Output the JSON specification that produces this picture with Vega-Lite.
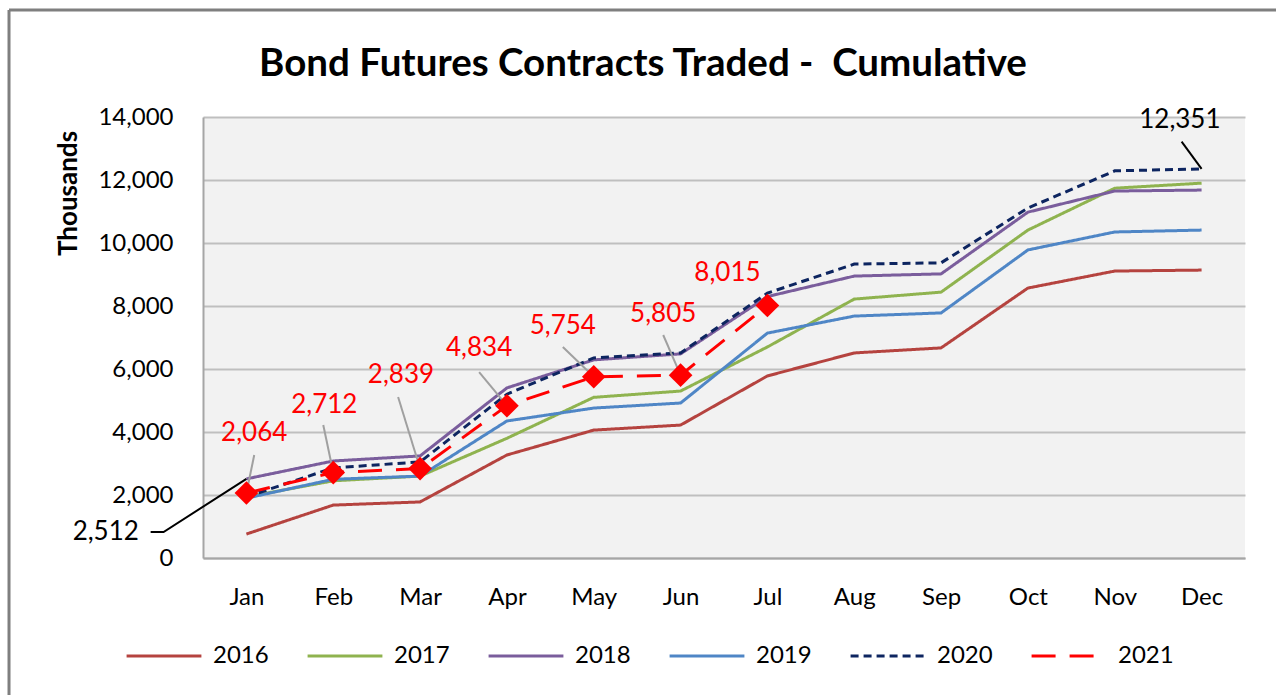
{
  "$schema": "https://vega.github.io/schema/vega-lite/v6.json",
  "width": 1042,
  "height": 441,
  "autosize": {"type": "none"},
  "padding": {"left": 203, "top": 117, "right": 31, "bottom": 137},
  "background": "white",
  "title": {
    "text": "Bond Futures Contracts Traded -\u00a0 Cumulative",
    "font": "Lato", "fontSize": 38.5, "fontWeight": "bold", "color": "black",
    "anchor": "middle", "frame": "group", "dx": -81, "offset": -76
  },
  "config": {
    "font": "Lato",
    "view": {"fill": "#f2f2f2", "stroke": null},
    "axisX": {
      "grid": false, "ticks": false, "domainColor": "#a6a6a6", "domainWidth": 2,
      "labelPadding": 27, "labelFontSize": 24, "labelColor": "black", "labelFont": "Lato"
    },
    "axisY": {
      "grid": true, "gridColor": "#bfbfbf", "gridWidth": 2,
      "ticks": false, "domainColor": "#a6a6a6", "domainWidth": 2,
      "labelExpr": "format(datum.value, ',')",
      "labelPadding": 30, "labelFontSize": 24, "labelColor": "black", "labelFont": "Lato",
      "titleFontSize": 26, "titleFontWeight": "bold", "titleColor": "black", "titleFont": "Lato",
      "titleX": -135, "titleY": 76, "titleAngle": -90, "titleAlign": "center", "titleBaseline": "middle"
    },
    "legend": {
      "orient": "none", "legendX": -78, "legendY": 500, "direction": "horizontal",
      "symbolType": "stroke", "symbolSize": 5600, "labelFontSize": 24, "labelFont": "Lato",
      "labelColor": "black", "columnPadding": 32, "labelOffset": 10, "title": null
    }
  },
  "datasets": {
    "series": [
      {"m": 1, "year": "2016", "value": 760}, {"m": 2, "year": "2016", "value": 1680}, {"m": 3, "year": "2016", "value": 1780},
      {"m": 4, "year": "2016", "value": 3270}, {"m": 5, "year": "2016", "value": 4060}, {"m": 6, "year": "2016", "value": 4220},
      {"m": 7, "year": "2016", "value": 5780}, {"m": 8, "year": "2016", "value": 6510}, {"m": 9, "year": "2016", "value": 6670},
      {"m": 10, "year": "2016", "value": 8570}, {"m": 11, "year": "2016", "value": 9110}, {"m": 12, "year": "2016", "value": 9140},
      {"m": 1, "year": "2017", "value": 1940}, {"m": 2, "year": "2017", "value": 2450}, {"m": 3, "year": "2017", "value": 2600},
      {"m": 4, "year": "2017", "value": 3800}, {"m": 5, "year": "2017", "value": 5100}, {"m": 6, "year": "2017", "value": 5300},
      {"m": 7, "year": "2017", "value": 6700}, {"m": 8, "year": "2017", "value": 8220}, {"m": 9, "year": "2017", "value": 8440},
      {"m": 10, "year": "2017", "value": 10410}, {"m": 11, "year": "2017", "value": 11740}, {"m": 12, "year": "2017", "value": 11900},
      {"m": 1, "year": "2018", "value": 2512}, {"m": 2, "year": "2018", "value": 3080}, {"m": 3, "year": "2018", "value": 3240},
      {"m": 4, "year": "2018", "value": 5400}, {"m": 5, "year": "2018", "value": 6290}, {"m": 6, "year": "2018", "value": 6480},
      {"m": 7, "year": "2018", "value": 8300}, {"m": 8, "year": "2018", "value": 8950}, {"m": 9, "year": "2018", "value": 9020},
      {"m": 10, "year": "2018", "value": 10980}, {"m": 11, "year": "2018", "value": 11650}, {"m": 12, "year": "2018", "value": 11680},
      {"m": 1, "year": "2019", "value": 1900}, {"m": 2, "year": "2019", "value": 2500}, {"m": 3, "year": "2019", "value": 2600},
      {"m": 4, "year": "2019", "value": 4350}, {"m": 5, "year": "2019", "value": 4760}, {"m": 6, "year": "2019", "value": 4920},
      {"m": 7, "year": "2019", "value": 7140}, {"m": 8, "year": "2019", "value": 7680}, {"m": 9, "year": "2019", "value": 7780},
      {"m": 10, "year": "2019", "value": 9780}, {"m": 11, "year": "2019", "value": 10350}, {"m": 12, "year": "2019", "value": 10410},
      {"m": 1, "year": "2020", "value": 1940}, {"m": 2, "year": "2020", "value": 2860}, {"m": 3, "year": "2020", "value": 3050},
      {"m": 4, "year": "2020", "value": 5200}, {"m": 5, "year": "2020", "value": 6350}, {"m": 6, "year": "2020", "value": 6510},
      {"m": 7, "year": "2020", "value": 8410}, {"m": 8, "year": "2020", "value": 9330}, {"m": 9, "year": "2020", "value": 9370},
      {"m": 10, "year": "2020", "value": 11110}, {"m": 11, "year": "2020", "value": 12290}, {"m": 12, "year": "2020", "value": 12351},
      {"m": 1, "year": "2021", "value": 2064}, {"m": 2, "year": "2021", "value": 2712}, {"m": 3, "year": "2021", "value": 2839},
      {"m": 4, "year": "2021", "value": 4834}, {"m": 5, "year": "2021", "value": 5754}, {"m": 6, "year": "2021", "value": 5805},
      {"m": 7, "year": "2021", "value": 8015}
    ],
    "labels21": [
      {"m": 1, "value": 2064, "lm": 1.09, "lv": 3270, "tm": 1.09, "tv": 3970, "label": "2,064"},
      {"m": 2, "value": 2712, "lm": 1.885, "lv": 4220, "tm": 1.897, "tv": 4860, "label": "2,712"},
      {"m": 3, "value": 2839, "lm": 2.747, "lv": 5110, "tm": 2.78, "tv": 5810, "label": "2,839"},
      {"m": 4, "value": 4834, "lm": 3.68, "lv": 5900, "tm": 3.68, "tv": 6670, "label": "4,834"},
      {"m": 5, "value": 5754, "lm": 4.644, "lv": 6700, "tm": 4.644, "tv": 7370, "label": "5,754"},
      {"m": 6, "value": 5805, "lm": 5.8, "lv": 7080, "tm": 5.8, "tv": 7750, "label": "5,805"},
      {"m": 7, "value": 8015, "lm": 7, "lv": 8015, "tm": 6.54, "tv": 9050, "label": "8,015"}
    ],
    "blackLabels": [
      {"tm": 11.75, "tv": 13900, "label": "12,351"},
      {"tm": -0.62, "tv": 825, "label": "2,512"}
    ],
    "leader2020": [
      {"m": 12, "value": 12351, "lm": 11.77, "lv": 13220}
    ],
    "leader2018": [
      {"order": 1, "m": -0.103, "value": 825},
      {"order": 2, "m": 0.046, "value": 825},
      {"order": 3, "m": 1, "value": 2512}
    ],
    "frame": [
      {"m": -1.734, "value": 17397, "lm": -1.734, "lv": -5000},
      {"m": -1.734, "value": 17397, "lm": 13.2, "lv": 17397}
    ]
  },
  "layer": [
    {
      "data": {"name": "frame"},
      "mark": {"type": "rule", "color": "#7f7f7f", "strokeWidth": 3},
      "encoding": {
        "x": {"field": "m", "type": "quantitative", "title": null},
        "y": {"field": "value", "type": "quantitative", "title": "Thousands"},
        "x2": {"field": "lm"},
        "y2": {"field": "lv"}
      }
    },
    {
      "data": {"name": "series"},
      "mark": {"type": "line", "strokeCap": "butt"},
      "encoding": {
        "x": {"field": "m", "type": "quantitative", "scale": {"domain": [0.5, 12.5], "nice": false, "zero": false}, "title": null,
          "axis": {"values": [1, 2, 3, 4, 5, 6, 7, 8, 9, 10, 11, 12],
                   "labelExpr": "['Jan','Feb','Mar','Apr','May','Jun','Jul','Aug','Sep','Oct','Nov','Dec'][datum.value-1]"}},
        "y": {"field": "value", "type": "quantitative", "scale": {"domain": [0, 14000], "nice": false}, "title": "Thousands",
          "axis": {"values": [0, 2000, 4000, 6000, 8000, 10000, 12000, 14000], "labelExpr": "format(datum.value, ',')"}},
        "color": {"field": "year", "type": "nominal",
          "scale": {"domain": ["2016", "2017", "2018", "2019", "2020", "2021"],
                    "range": ["#b5433f", "#8fb34f", "#7a5d9c", "#4f86c6", "#0d2560", "#ff0000"]}},
        "strokeDash": {"field": "year", "type": "nominal",
          "scale": {"domain": ["2016", "2017", "2018", "2019", "2020", "2021"],
                    "range": [[1, 0], [1, 0], [1, 0], [1, 0], [8, 5], [24, 14]]}},
        "strokeWidth": {"field": "year", "type": "nominal",
          "scale": {"domain": ["2016", "2017", "2018", "2019", "2020", "2021"],
                    "range": [3, 3, 3, 3, 3, 6.5]}}
      }
    },
    {
      "data": {"name": "labels21"},
      "mark": {"type": "rule", "color": "#a0a0a0", "strokeWidth": 2},
      "encoding": {
        "x": {"field": "m", "type": "quantitative", "title": null},
        "y": {"field": "value", "type": "quantitative", "title": "Thousands"},
        "x2": {"field": "lm"},
        "y2": {"field": "lv"}
      }
    },
    {
      "data": {"name": "series"},
      "transform": [{"filter": "datum.year == '2021'"}],
      "mark": {"type": "point", "shape": "diamond", "filled": true, "color": "#ff0000", "opacity": 1, "size": 560},
      "encoding": {
        "x": {"field": "m", "type": "quantitative", "title": null},
        "y": {"field": "value", "type": "quantitative", "title": "Thousands"}
      }
    },
    {
      "data": {"name": "labels21"},
      "mark": {"type": "text", "color": "#ff0000", "fontSize": 26, "font": "Lato", "align": "center", "baseline": "middle"},
      "encoding": {
        "x": {"field": "tm", "type": "quantitative", "title": null},
        "y": {"field": "tv", "type": "quantitative", "title": "Thousands"},
        "text": {"field": "label"}
      }
    },
    {
      "data": {"name": "leader2020"},
      "mark": {"type": "rule", "color": "black", "strokeWidth": 2},
      "encoding": {
        "x": {"field": "m", "type": "quantitative", "title": null},
        "y": {"field": "value", "type": "quantitative", "title": "Thousands"},
        "x2": {"field": "lm"},
        "y2": {"field": "lv"}
      }
    },
    {
      "data": {"name": "leader2018"},
      "mark": {"type": "line", "color": "black", "strokeWidth": 2},
      "encoding": {
        "x": {"field": "m", "type": "quantitative", "title": null},
        "y": {"field": "value", "type": "quantitative", "title": "Thousands"},
        "order": {"field": "order", "type": "quantitative"}
      }
    },
    {
      "data": {"name": "blackLabels"},
      "mark": {"type": "text", "color": "black", "fontSize": 26, "font": "Lato", "align": "center", "baseline": "middle"},
      "encoding": {
        "x": {"field": "tm", "type": "quantitative", "title": null},
        "y": {"field": "tv", "type": "quantitative", "title": "Thousands"},
        "text": {"field": "label"}
      }
    }
  ]
}
